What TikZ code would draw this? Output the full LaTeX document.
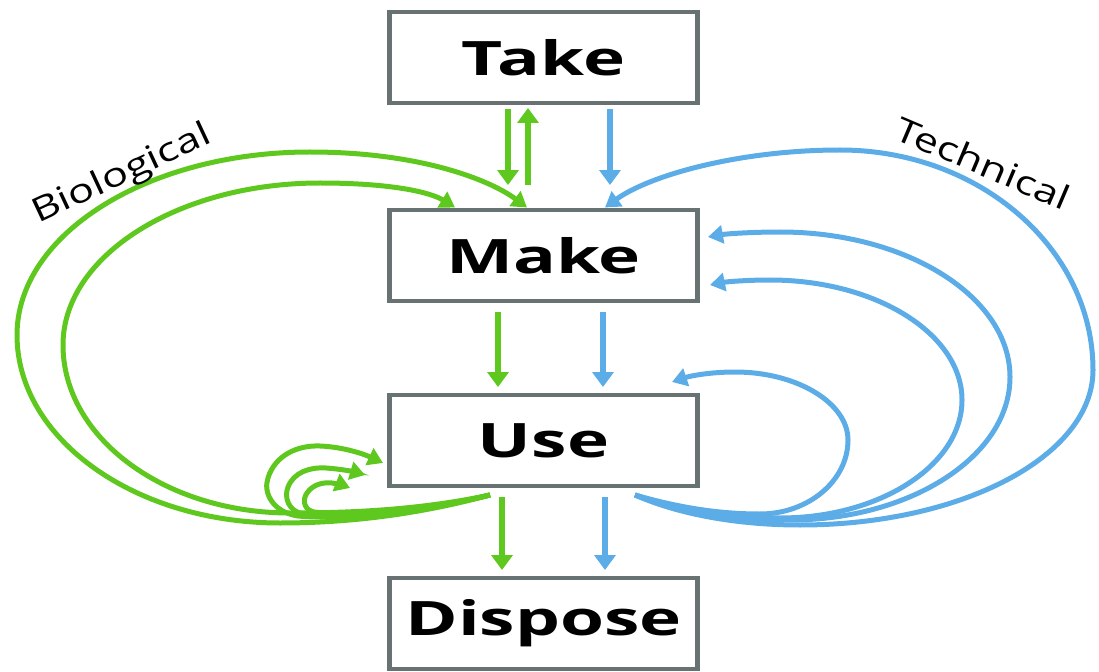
\documentclass[tikz,border=0pt]{standalone}
\usepackage{fontspec}
\setsansfont[FakeStretch=1.5]{Open Sans}
\newfontfamily\cyclefont[FakeStretch=1.3]{Open Sans}
\usetikzlibrary{arrows.meta}
\tikzset{>={Triangle[width=0.42cm,length=0.3cm]}}
\definecolor{biogreen}{RGB}{94,200,30}
\definecolor{techblue}{RGB}{92,172,232}
\definecolor{boxgray}{RGB}{104,114,114}

\begin{document}
\begin{tikzpicture}[x=0.02cm, y=-0.02cm,
    stage/.style={draw=boxgray, line width=0.09cm, fill=white, minimum width=6.17cm,
      minimum height=1.83cm, font=\sffamily\bfseries\fontsize{27}{30}\selectfont},
    bio/.style={biogreen, line width=0.12cm, ->},
    tech/.style={techblue, line width=0.12cm, ->},
    bioloop/.style={biogreen, line width=0.1cm, -{Triangle[width=0.36cm,length=0.3cm]}},
    techloop/.style={techblue, line width=0.1cm, -{Triangle[width=0.36cm,length=0.3cm]}},
    cycle label/.style={font=\cyclefont\fontsize{19}{22}\selectfont}]
  \useasboundingbox (0,0) rectangle (1099,672);
  % stages
  \node[stage] (take) at (543.5,57.5) {Take};
  \node[stage] (make) at (543.5,255.5) {Make};
  \node[stage] (use) at (543.5,440.5) {Use};
  \node[stage] (dispose) at (543.5,623.5) {Dispose};
  % straight flows
  \draw[bio, shorten <=0.07cm, shorten >=0.45cm] ([xshift=-0.71cm]take.south) -- ([xshift=-0.71cm]make.north);
  \draw[bio, shorten <=0.45cm, shorten >=0.05cm] ([xshift=-0.31cm]make.north) -- ([xshift=-0.31cm]take.south);
  \draw[tech, shorten <=0.07cm, shorten >=0.45cm] ([xshift=1.33cm]take.south) -- ([xshift=1.33cm]make.north);
  \draw[bio, shorten <=0.17cm, shorten >=0.11cm] ([xshift=-0.91cm]make.south) -- ([xshift=-0.91cm]use.north);
  \draw[tech, shorten <=0.17cm, shorten >=0.11cm] ([xshift=1.19cm]make.south) -- ([xshift=1.19cm]use.north);
  \draw[bio, shorten <=0.17cm, shorten >=0.11cm] ([xshift=-0.83cm]use.south) -- ([xshift=-0.83cm]dispose.north);
  \draw[tech, shorten <=0.17cm, shorten >=0.11cm] ([xshift=1.23cm]use.south) -- ([xshift=1.23cm]dispose.north);
  % loop ends
  \coordinate (gs) at ([xshift=-1.07cm,yshift=-0.13cm]use.south);
  \coordinate (bs) at ([xshift=1.83cm,yshift=-0.13cm]use.south);
  % biological cycle
  \draw[bioloop] (gs) .. controls (420,514) and (350,523) .. (280,523)
    .. controls (135,523) and (17,439) .. (17,335)
    .. controls (17,234) and (148,152) .. (310,152)
    .. controls (420,152) and (490,180) .. ([xshift=-0.33cm]make.north);
  \draw[bioloop] (gs) .. controls (420,510) and (350,513) .. (290,513)
    .. controls (165,513) and (63,438) .. (63,345)
    .. controls (63,256) and (178,183) .. (320,183)
    .. controls (390,183) and (430,192) .. ([xshift=-1.77cm]make.north);
  \draw[bioloop] (gs) .. controls (420,512) and (340,520) .. (298,516)
    .. controls (272,512) and (263,492) .. (268,478)
    .. controls (275,455) and (298,445) .. (320,446)
    .. controls (345,447) and (366,455) .. ([xshift=-0.08cm,yshift=-0.45cm]use.west);
  \draw[bioloop] (gs) .. controls (420,512) and (345,518) .. (303,514)
    .. controls (288,511) and (284,497) .. (288,487)
    .. controls (294,472) and (310,467) .. (326,468)
    .. controls (341,469) and (355,472) .. ([xshift=-0.44cm,yshift=-0.69cm]use.west);
  \draw[bioloop] (gs) .. controls (420,512) and (350,516) .. (314,512)
    .. controls (304,510) and (302,500) .. (307,493)
    .. controls (313,484) and (324,482) .. (332,483)
    .. controls (339,484) and (345,486) .. ([xshift=-0.74cm,yshift=-0.95cm]use.west);
  % technical cycle
  \draw[techloop] (bs) .. controls (680,515) and (740,525) .. (800,525)
    .. controls (962,525) and (1093,456) .. (1093,370)
    .. controls (1093,249) and (980,150) .. (840,150)
    .. controls (740,150) and (650,175) .. ([xshift=1.23cm]make.north);
  \draw[techloop] (bs) .. controls (680,512) and (730,520) .. (790,520)
    .. controls (911,520) and (1010,456) .. (1010,377)
    .. controls (1010,297) and (907,232) .. (780,232)
    .. controls (750,232) and (725,234) .. ([xshift=0.16cm,yshift=0.37cm]make.east);
  \draw[techloop] (bs) .. controls (680,510) and (720,518) .. (780,518)
    .. controls (880,518) and (962,465) .. (962,400)
    .. controls (962,334) and (876,280) .. (770,280)
    .. controls (745,280) and (725,282) .. ([xshift=0.2cm,yshift=-0.59cm]make.east);
  \draw[techloop] (bs) .. controls (680,508) and (720,514) .. (760,514)
    .. controls (808,514) and (848,481) .. (848,440)
    .. controls (848,403) and (797,372) .. (735,372)
    .. controls (710,372) and (690,376) .. ([xshift=2.57cm,yshift=0.21cm]use.north);
  % labels
  \node[cycle label, rotate=25] (biolabel) at (122,175) {Biological};
  \node[cycle label, rotate=-23] (techlabel) at (983,163) {Technical};
\end{tikzpicture}
\end{document}
